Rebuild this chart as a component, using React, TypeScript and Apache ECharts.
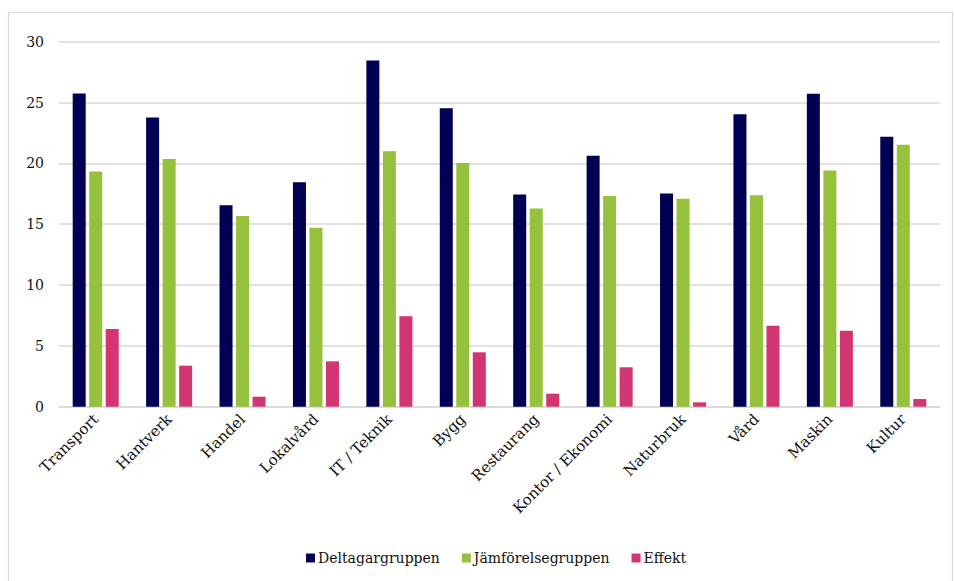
import React, { useEffect, useRef } from "react";
import * as echarts from "echarts";

const categories = [
  "Transport", "Hantverk", "Handel", "Lokalvård", "IT / Teknik", "Bygg",
  "Restaurang", "Kontor / Ekonomi", "Naturbruk", "Vård", "Maskin", "Kultur",
];
const deltagargruppen = [25.75, 23.78, 16.55, 18.44, 28.46, 24.52, 17.45, 20.62, 17.53, 24.03, 25.72, 22.19];
const jamforelsegruppen = [19.34, 20.35, 15.67, 14.71, 20.99, 20.03, 16.3, 17.31, 17.09, 17.37, 19.42, 21.53];
const effekt = [6.38, 3.37, 0.82, 3.73, 7.43, 4.47, 1.07, 3.24, 0.36, 6.66, 6.25, 0.63];
const seriesNames = ["Deltagargruppen", "Jämförelsegruppen", "Effekt"];
const colors = ["#020053", "#95c13d", "#d33572"];

const FONT = "'DejaVu Serif', 'Liberation Serif', serif";

export default function App() {
  const ref = useRef<HTMLDivElement>(null);
  useEffect(() => {
    if (!ref.current) return;
    const chart = echarts.init(ref.current, null, { renderer: "svg" });
    const data = [deltagargruppen, jamforelsegruppen, effekt];
    chart.setOption({
      animation: false,
      backgroundColor: "#ffffff",
      textStyle: { fontFamily: FONT },
      graphic: [
        {
          type: "rect",
          shape: { x: 8.5, y: 12.5, width: 944, height: 580 },
          style: { fill: "none", stroke: "#d9d9d9", lineWidth: 1.2 },
          silent: true,
        },
      ],
      grid: { left: 59, right: 14, top: 41.7, bottom: 174.3, containLabel: false },
      legend: {
        top: 546,
        left: 301,
        itemWidth: 9,
        itemHeight: 9,
        itemGap: 22,
        icon: "rect",
        textStyle: { fontFamily: FONT, fontSize: 14, color: "#111111", padding: [0, 0, 0, -2] },
        data: seriesNames,
      },
      xAxis: {
        type: "category",
        data: categories,
        axisLine: { show: true, lineStyle: { color: "#d9d9d9", width: 1.5 } },
        axisTick: { show: false },
        axisLabel: {
          interval: 0,
          rotate: 45,
          margin: 10,
          fontFamily: FONT,
          fontSize: 15,
          color: "#111111",
        },
      },
      yAxis: {
        type: "value",
        min: 0,
        max: 30,
        interval: 5,
        axisLine: { show: false },
        axisTick: { show: false },
        splitLine: { lineStyle: { color: "#d9d9d9", width: 1.5 } },
        axisLabel: { margin: 15, fontFamily: FONT, fontSize: 14, color: "#111111" },
      },
      series: seriesNames.map((name, i) => ({
        name,
        type: "bar",
        data: data[i],
        barWidth: 13,
        barGap: "27%",
        itemStyle: { color: colors[i] },
      })),
    });
    return () => chart.dispose();
  }, []);
  return (
    <div
      ref={ref}
      style={{ position: "fixed", left: 0, top: 0, width: 954, height: 581, background: "#fff" }}
    />
  );
}
